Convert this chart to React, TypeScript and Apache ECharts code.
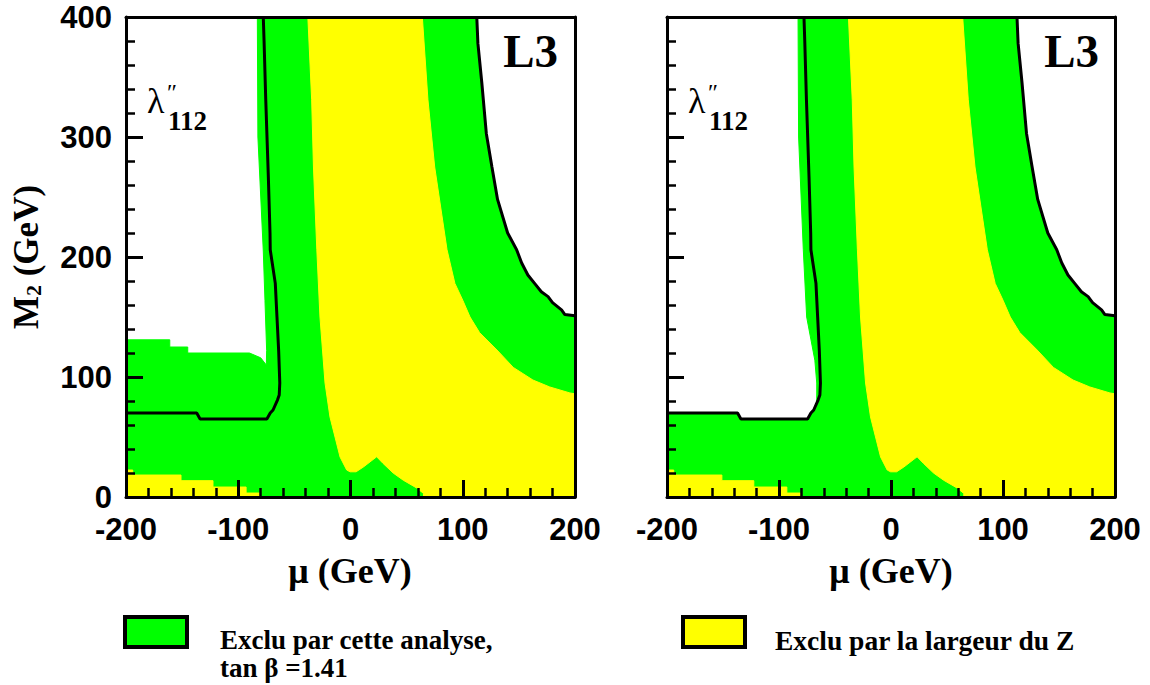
import React, { useEffect, useRef } from "react";
import * as echarts from "echarts";

// ---- axes ----
const X_TICKS = [-200, -100, 0, 100, 200];
const Y_TICKS = [0, 100, 200, 300, 400];

// ---- regions (mu [GeV], M2 [GeV]) ----
// green: excluded by this analysis (left panel)
const greenRegionLeft: number[][] = [
  [-83, 400], [112.5, 400], [113.5, 378], [117, 345], [121, 303], [126, 275], [131, 248],
  [140, 220], [148, 206], [152.5, 195], [158, 185], [164, 178], [170, 171], [176, 167],
  [180, 162], [188, 156], [191, 152], [200, 151], [200, 0], [-200, 0], [-200, 131],
  [-161, 131], [-161, 125], [-145, 125], [-145, 120], [-90, 120], [-80, 116], [-75, 110],
  [-74.7, 122], [-76.2, 164], [-77.7, 205], [-82.5, 300], [-83, 400],
];
// green: excluded by this analysis (right panel)
const greenRegionRight: number[][] = [
  [-83, 400], [112.5, 400], [113.5, 378], [117, 345], [121, 303], [126, 275], [131, 248],
  [140, 220], [148, 206], [152.5, 195], [158, 185], [164, 178], [170, 171], [176, 167],
  [180, 162], [188, 156], [191, 152], [200, 151], [200, 0], [-200, 0], [-200, 70],
  [-137, 70], [-134, 65], [-74.5, 65], [-70.5, 70], [-66.3, 75], [-66.3, 95], [-68, 114],
  [-75.3, 150], [-78.3, 206], [-82.5, 300], [-83, 400],
];
// yellow: excluded by the Z width
const yellowBand: number[][] = [
  [-38, 400], [64, 400], [69, 331], [75, 275], [86, 206], [93, 178], [100, 164], [106.5, 150],
  [115, 137], [130.5, 122.5], [145, 108], [162.5, 97.5], [177.5, 91.7], [195.5, 86.7],
  [200, 86], [200, 0], [65, 0], [65, 3], [59, 7.5], [47, 14], [38, 20], [29, 28], [23.3, 33.5],
  [11.5, 25], [5, 21], [-0.4, 21], [-3.4, 22.5], [-9.3, 33.3], [-13.8, 50], [-18.3, 66.7],
  [-22.7, 95], [-27.2, 150], [-30, 206], [-33, 275], [-34.6, 331], [-38, 400],
];
const yellowCorner: number[][] = [
  [-200, 0], [-200, 22.5], [-194, 22.5], [-194, 18.3], [-151, 18.3], [-151, 13.6],
  [-122.5, 13.6], [-122.5, 8.3], [-93, 8.3], [-93, 3.3], [-80.6, 3.3], [-80.6, 0],
];
// black contours (limit of this analysis)
const contourLow: number[][] = [
  [-77.7, 400], [-77, 380], [-75.5, 331], [-73.2, 267], [-71.7, 220], [-71.5, 206],
  [-67, 178], [-65.5, 150], [-64, 122], [-63, 95], [-63.5, 85], [-65, 81], [-69, 72.5],
  [-71.5, 70], [-74.5, 65], [-134, 65], [-137, 70], [-200, 70],
];
const contourHigh: number[][] = [
  [112.5, 400], [113.5, 378], [117, 345], [121, 303], [126, 275], [131, 248], [140, 220],
  [148, 206], [152.5, 195], [158, 185], [164, 178], [170, 171], [176, 167], [180, 162],
  [188, 156], [191, 152], [200, 151],
];

const GREEN = "#00ff00";
const YELLOW = "#ffff00";
const SANS = "Liberation Sans, Arial, sans-serif";
const SERIF = "Liberation Serif, Times New Roman, serif";

function regionSeries(name: string, pts: number[][], color: string, gi: number) {
  return {
    type: "custom",
    name,
    coordinateSystem: "cartesian2d",
    xAxisIndex: gi,
    yAxisIndex: gi,
    silent: true,
    z: 2,
    data: [[0, 0]],
    renderItem: (_params: any, api: any) => ({
      type: "polygon",
      shape: { points: pts.map((p) => api.coord(p)) },
      style: { fill: color, stroke: color, lineWidth: 1 },
    }),
  };
}

function lineSeries(pts: number[][], gi: number) {
  return {
    type: "line",
    xAxisIndex: gi,
    yAxisIndex: gi,
    data: pts,
    symbol: "none",
    silent: true,
    z: 5,
    lineStyle: { color: "#000", width: 3 },
  };
}

function bottomAxis(gi: number) {
  return {
    type: "value",
    gridIndex: gi,
    position: "bottom",
    min: X_TICKS[0],
    max: X_TICKS[X_TICKS.length - 1],
    interval: X_TICKS[1] - X_TICKS[0],
    z: 10,
    axisLine: { show: true, onZero: false, lineStyle: { color: "#000", width: 3 } },
    axisTick: { show: true, inside: true, length: 17, lineStyle: { color: "#000", width: 3 } },
    minorTick: { show: true, splitNumber: 5, length: 9, lineStyle: { color: "#000", width: 2.5 } },
    splitLine: { show: false },
    axisLabel: {
      show: true, margin: 20, color: "#000", fontFamily: SANS, fontWeight: "bold", fontSize: 31,
      lineHeight: 24,
    },
  };
}
function topAxis(gi: number) {
  return {
    type: "value",
    gridIndex: gi,
    position: "top",
    min: X_TICKS[0],
    max: X_TICKS[X_TICKS.length - 1],
    z: 10,
    axisLine: { show: true, onZero: false, lineStyle: { color: "#000", width: 3 } },
    axisTick: { show: false },
    axisLabel: { show: false },
    splitLine: { show: false },
  };
}
function leftAxis(gi: number, labels: boolean) {
  return {
    type: "value",
    gridIndex: gi,
    position: "left",
    min: Y_TICKS[0],
    max: Y_TICKS[Y_TICKS.length - 1],
    interval: Y_TICKS[1] - Y_TICKS[0],
    z: 10,
    axisLine: { show: true, onZero: false, lineStyle: { color: "#000", width: 3 } },
    axisTick: { show: true, inside: true, length: 17, lineStyle: { color: "#000", width: 3 } },
    minorTick: { show: true, splitNumber: 5, length: 9, lineStyle: { color: "#000", width: 2.5 } },
    splitLine: { show: false },
    axisLabel: {
      show: labels, margin: 14, color: "#000", fontFamily: SANS, fontWeight: "bold", fontSize: 31,
      lineHeight: 22,
    },
  };
}
function rightAxis(gi: number) {
  return {
    type: "value",
    gridIndex: gi,
    position: "right",
    min: Y_TICKS[0],
    max: Y_TICKS[Y_TICKS.length - 1],
    z: 10,
    axisLine: { show: true, onZero: false, lineStyle: { color: "#000", width: 3 } },
    axisTick: { show: false },
    axisLabel: { show: false },
    splitLine: { show: false },
  };
}

function panelTexts(dx: number) {
  return [
    {
      type: "text", x: 558 + dx, y: 51, z: 20,
      style: { text: "L3", font: `bold 47px ${SERIF}`, fill: "#000", textAlign: "right", textVerticalAlign: "middle" },
    },
    {
      type: "text", x: 147 + dx, y: 101, z: 20,
      style: { text: "λ", font: `36px ${SERIF}`, fill: "#000", textAlign: "left", textVerticalAlign: "middle" },
    },
    {
      type: "text", x: 167 + dx, y: 92, z: 20,
      style: { text: "″", font: `24px ${SERIF}`, fill: "#000", textAlign: "left", textVerticalAlign: "middle" },
    },
    {
      type: "text", x: 168 + dx, y: 121, z: 20,
      style: { text: "112", font: `bold 27px ${SERIF}`, fill: "#000", textAlign: "left", textVerticalAlign: "middle" },
    },
    {
      type: "text", x: 350 + dx, y: 571, z: 20,
      style: { text: "μ (GeV)", font: `bold 36px ${SERIF}`, fill: "#000", textAlign: "center", textVerticalAlign: "middle" },
    },
  ];
}

export default function App() {
  const ref = useRef<HTMLDivElement>(null);
  useEffect(() => {
    if (!ref.current) return;
    const chart = echarts.init(ref.current, null, { renderer: "svg" });
    const option: any = {
      animation: false,
      backgroundColor: "#fff",
      grid: [
        { left: 126, top: 17, width: 449, height: 480 },
        { left: 667, top: 17, width: 448, height: 480 },
      ],
      xAxis: [bottomAxis(0), bottomAxis(1), topAxis(0), topAxis(1)],
      yAxis: [leftAxis(0, true), leftAxis(1, false), rightAxis(0), rightAxis(1)],
      series: [
        regionSeries("Exclu par cette analyse", greenRegionLeft, GREEN, 0),
        regionSeries("Exclu par la largeur du Z", yellowBand, YELLOW, 0),
        regionSeries("Exclu par la largeur du Z", yellowCorner, YELLOW, 0),
        lineSeries(contourLow, 0),
        lineSeries(contourHigh, 0),
        regionSeries("Exclu par cette analyse", greenRegionRight, GREEN, 1),
        regionSeries("Exclu par la largeur du Z", yellowBand, YELLOW, 1),
        regionSeries("Exclu par la largeur du Z", yellowCorner, YELLOW, 1),
        lineSeries(contourLow, 1),
        lineSeries(contourHigh, 1),
      ],
      graphic: [
        ...panelTexts(0),
        ...panelTexts(541),
        {
          type: "text", x: 26, y: 257, rotation: Math.PI / 2, z: 20,
          style: {
            text: "{m|M}{s|2}{m| (GeV)}",
            textAlign: "center",
            textVerticalAlign: "middle",
            fill: "#000",
            rich: {
              m: { fontFamily: SERIF, fontWeight: "bold", fontSize: 35, lineHeight: 36, verticalAlign: "middle" },
              s: { fontFamily: SERIF, fontWeight: "bold", fontSize: 22, lineHeight: 22, verticalAlign: "bottom" },
            },
          },
        },
        {
          type: "rect", z: 20,
          shape: { x: 125, y: 617, width: 62, height: 30 },
          style: { fill: GREEN, stroke: "#000", lineWidth: 4 },
        },
        {
          type: "text", x: 220, y: 640, z: 20,
          style: { text: "Exclu par cette analyse,", font: `bold 27px ${SERIF}`, fill: "#000", textVerticalAlign: "middle" },
        },
        {
          type: "text", x: 220, y: 668, z: 20,
          style: { text: "tan β =1.41", font: `bold 27px ${SERIF}`, fill: "#000", textVerticalAlign: "middle" },
        },
        {
          type: "rect", z: 20,
          shape: { x: 683, y: 617, width: 62, height: 30 },
          style: { fill: YELLOW, stroke: "#000", lineWidth: 4 },
        },
        {
          type: "text", x: 775, y: 640, z: 20,
          style: { text: "Exclu par la largeur du Z", font: `bold 27.5px ${SERIF}`, fill: "#000", textVerticalAlign: "middle" },
        },
      ],
    };
    chart.setOption(option);
    return () => chart.dispose();
  }, []);
  return (
    <div
      ref={ref}
      style={{ position: "absolute", left: 0, top: 0, width: 1150, height: 685, background: "#fff" }}
    />
  );
}
